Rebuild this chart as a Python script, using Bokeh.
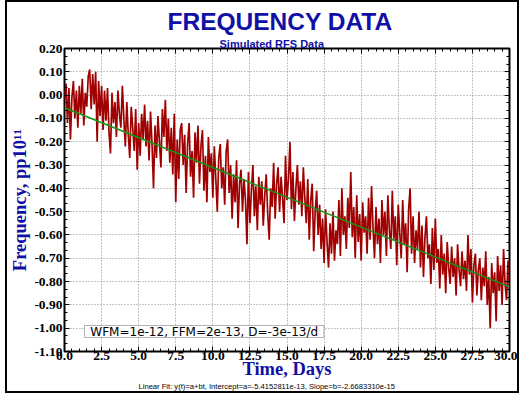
from bokeh.plotting import figure
from bokeh.models import (Range1d, LinearAxis, SingleIntervalTicker, NumeralTickFormatter,
                          CustomJSTickFormatter, Label, BoxAnnotation, Title)
from bokeh.embed import file_html
from bokeh.resources import INLINE

# ---- texts ----
title_text = "FREQUENCY DATA"
subtitle_text = "Simulated RFS Data"
x_label_text = "Time, Days"
y_label_text = "Frequency, pp10\u00b9\u00b9"
noise_note = "WFM=1e-12, FFM=2e-13, D=-3e-13/d"
fit_note = "Linear Fit: y(t)=a+bt, Intercept=a=-5.4152811e-13, Slope=b=-2.6683310e-15"

# ---- data (pp10^11, every 0.1 day) ----
freq_day00 = [-0.02, 0.05, -0.12, 0.03, -0.19, -0.01, 0.06, -0.10, 0.02, -0.14]
freq_day01 = [0.04, -0.08, 0.07, -0.13, 0.01, -0.05, 0.08, 0.11, -0.06, 0.09]
freq_day02 = [-0.04, 0.10, -0.20, 0.06, -0.09, 0.04, -0.15, 0.02, -0.11, 0.03]
freq_day03 = [-0.16, -0.25, 0.01, -0.12, -0.03, -0.18, 0.02, -0.08, -0.14, 0.04]
freq_day04 = [-0.10, -0.22, -0.03, -0.17, -0.27, -0.05, -0.14, -0.24, -0.06, -0.32]
freq_day05 = [-0.12, -0.26, -0.08, -0.19, -0.04, -0.22, -0.11, -0.28, -0.07, -0.21]
freq_day06 = [-0.40, -0.13, -0.27, -0.09, -0.20, -0.31, -0.06, -0.18, -0.02, -0.24]
freq_day07 = [-0.10, -0.29, -0.14, -0.34, -0.08, -0.46, -0.19, -0.36, -0.15, -0.12]
freq_day08 = [-0.30, -0.17, -0.42, -0.21, -0.12, -0.35, -0.24, -0.44, -0.16, -0.29]
freq_day09 = [-0.13, -0.38, -0.22, -0.15, -0.41, -0.26, -0.46, -0.18, -0.33, -0.25]
freq_day10 = [-0.44, -0.22, -0.36, -0.50, -0.27, -0.21, -0.40, -0.31, -0.47, -0.24]
freq_day11 = [-0.19, -0.42, -0.30, -0.53, -0.34, -0.46, -0.28, -0.57, -0.38, -0.32]
freq_day12 = [-0.50, -0.36, -0.45, -0.64, -0.33, -0.55, -0.41, -0.30, -0.52, -0.39]
freq_day13 = [-0.58, -0.35, -0.47, -0.37, -0.56, -0.43, -0.34, -0.51, -0.62, -0.40]
freq_day14 = [-0.48, -0.29, -0.53, -0.38, -0.31, -0.50, -0.35, -0.44, -0.55, -0.26]
freq_day15 = [-0.45, -0.36, -0.20, -0.49, -0.33, -0.54, -0.40, -0.30, -0.47, -0.37]
freq_day16 = [-0.52, -0.31, -0.44, -0.55, -0.36, -0.62, -0.45, -0.38, -0.67, -0.50]
freq_day17 = [-0.41, -0.60, -0.47, -0.66, -0.53, -0.72, -0.49, -0.63, -0.74, -0.55]
freq_day18 = [-0.68, -0.50, -0.71, -0.58, -0.64, -0.45, -0.69, -0.40, -0.60, -0.52]
freq_day19 = [-0.66, -0.44, -0.57, -0.33, -0.61, -0.48, -0.70, -0.43, -0.63, -0.51]
freq_day20 = [-0.71, -0.46, -0.59, -0.52, -0.68, -0.44, -0.62, -0.39, -0.57, -0.70]
freq_day21 = [-0.48, -0.64, -0.53, -0.72, -0.45, -0.60, -0.50, -0.69, -0.43, -0.58]
freq_day22 = [-0.66, -0.41, -0.62, -0.52, -0.73, -0.47, -0.59, -0.70, -0.45, -0.64]
freq_day23 = [-0.55, -0.76, -0.49, -0.40, -0.68, -0.52, -0.72, -0.58, -0.66, -0.50]
freq_day24 = [-0.74, -0.56, -0.78, -0.61, -0.52, -0.70, -0.64, -0.81, -0.57, -0.75]
freq_day25 = [-0.53, -0.72, -0.66, -0.83, -0.60, -0.77, -0.68, -0.85, -0.63, -0.74]
freq_day26 = [-0.81, -0.65, -0.78, -0.70, -0.86, -0.64, -0.75, -0.82, -0.67, -0.79]
freq_day27 = [-0.71, -0.84, -0.60, -0.77, -0.66, -0.89, -0.73, -0.68, -0.86, -0.75]
freq_day28 = [-0.70, -0.88, -0.74, -0.82, -0.67, -0.90, -0.78, -1.00, -0.72, -0.85]
freq_day29 = [-0.76, -0.97, -0.69, -0.84, -0.73, -0.90, -0.66, -0.81, -0.88, -0.71, -0.83]

freq = (freq_day00 + freq_day01 + freq_day02 + freq_day03 + freq_day04 + freq_day05 +
        freq_day06 + freq_day07 + freq_day08 + freq_day09 + freq_day10 + freq_day11 +
        freq_day12 + freq_day13 + freq_day14 + freq_day15 + freq_day16 + freq_day17 +
        freq_day18 + freq_day19 + freq_day20 + freq_day21 + freq_day22 + freq_day23 +
        freq_day24 + freq_day25 + freq_day26 + freq_day27 + freq_day28 + freq_day29)
day_step = 0.1
days = [round(i * day_step, 1) for i in range(len(freq))]

# linear fit, from the parameters printed under the chart (900 s samples)
fit_intercept = -5.4152811e-13
fit_slope = -2.6683310e-15
samples_per_day = 96
unit_scale = 1e-11
fit_days = [0.0, 30.0]
fit_vals = [(fit_intercept + fit_slope * samples_per_day * d) / unit_scale for d in fit_days]

# ---- figure ----
BLUE = "#1010a6"
SERIF = "Liberation Serif"
SANS = "Liberation Sans"
W, H = 514, 393
p = figure(width=W, height=H, x_range=Range1d(0, 30), y_range=Range1d(-1.1, 0.2),
           output_backend="svg", toolbar_location=None, title=None,
           min_border_left=56, min_border_right=12, min_border_top=46, min_border_bottom=44)
p.styles = {"border": "2px solid black", "margin-left": "5px"}
p.background_fill_color = "white"
p.border_fill_color = "white"
p.outline_line_color = "black"
p.outline_line_width = 2

x_ticker = SingleIntervalTicker(interval=2.5, num_minor_ticks=5)
y_ticker = SingleIntervalTicker(interval=0.1, num_minor_ticks=3)

def style_axis(ax, ticker, fmt, standoff, size="13.5px"):
    ax.ticker = ticker
    ax.formatter = fmt
    ax.axis_line_color = None
    ax.major_tick_in = 5
    ax.major_tick_out = 0
    ax.minor_tick_in = 3
    ax.minor_tick_out = 0
    ax.major_tick_line_color = "black"
    ax.minor_tick_line_color = "black"
    ax.major_label_standoff = standoff
    ax.major_label_text_font = SERIF
    ax.major_label_text_font_style = "bold"
    ax.major_label_text_font_size = size
    ax.major_label_text_color = "black"

xaxis = p.xaxis[0]
yaxis = p.yaxis[0]
style_axis(xaxis, x_ticker, NumeralTickFormatter(format="0.0"), 0)
style_axis(yaxis, y_ticker, NumeralTickFormatter(format="0.00"), 2)

xaxis.axis_label = x_label_text
xaxis.axis_label_text_font = SERIF
xaxis.axis_label_text_font_style = "bold"
xaxis.axis_label_text_font_size = "18.5px"
xaxis.axis_label_text_color = BLUE
xaxis.axis_label_standoff = -4

yaxis.axis_label = y_label_text
yaxis.axis_label_text_font = SERIF
yaxis.axis_label_text_font_style = "bold"
yaxis.axis_label_text_font_size = "18.5px"
yaxis.axis_label_text_color = BLUE
yaxis.axis_label_standoff = 1

blank = CustomJSTickFormatter(code="return ''")
top_axis = LinearAxis()
style_axis(top_axis, x_ticker, blank, 0, size="1px")
right_axis = LinearAxis()
style_axis(right_axis, y_ticker, blank, 0, size="1px")
p.add_layout(top_axis, "above")
p.add_layout(right_axis, "right")

p.xgrid.grid_line_color = "#8a8a8a"
p.xgrid.grid_line_dash = "1 2"
p.ygrid.grid_line_color = "#8a8a8a"
p.ygrid.grid_line_dash = "1 2"

p.line(days, freq, line_color="#a00000", line_width=1.7)
p.line(fit_days, fit_vals, line_color="#169416", line_width=1.5)

# noise parameter box
p.add_layout(BoxAnnotation(left=1.35, right=17.49, top=-0.9884, bottom=-1.0399,
                           fill_color="white", fill_alpha=1.0,
                           line_color="black", line_width=1))
p.add_layout(Label(x=9.42, y=-1.0145, text=noise_note, text_align="center",
                   text_baseline="middle", text_font="DejaVu Sans",
                   text_font_size="12px", text_color="black"))

# titles (stacked outward from the frame) and footnote
p.add_layout(Title(text=subtitle_text, align="left", offset=155, standoff=-2,
                   text_font=SANS, text_font_style="bold", text_font_size="11px",
                   text_color=BLUE), "above")
p.add_layout(Title(text=title_text, align="left", offset=103, standoff=4,
                   text_font=SANS, text_font_style="bold", text_font_size="24.5px",
                   text_color=BLUE), "above")
p.add_layout(Title(text=fit_note, align="left", offset=74, standoff=-3,
                   text_font=SANS, text_font_style="normal", text_font_size="7.6px",
                   text_color="black"), "below")

open("out.html", "w").write(file_html(p, INLINE))
